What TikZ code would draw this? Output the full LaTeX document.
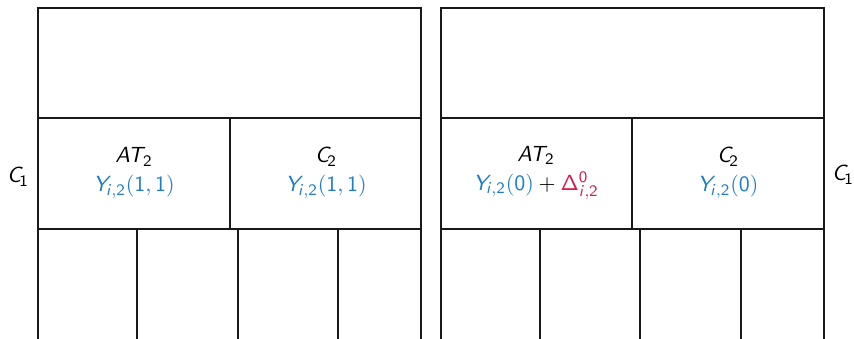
\documentclass[tikz,border=0pt]{standalone}
\DeclareMathAlphabet{\mathsfit}{OT1}{cmss}{m}{sl}
\DeclareMathAlphabet{\mathsfup}{OT1}{cmss}{m}{n}
\definecolor{myblue}{RGB}{30,125,200}
\definecolor{myred}{RGB}{215,30,75}
\newcommand{\Yv}{\mathsfit{Y}_{\mkern-2mu\mathsfit{i},\mathsfup{2}}}
\newcommand{\ATv}{\mathsfit{AT}_{\mkern-3mu\mathsfup{2}}}
\newcommand{\Cv}[1]{\mathsfit{C}_{\mkern-2mu\mathsfup{#1}}}
\tikzset{
  cell/.style={line width=1.05pt, draw=black!90},
  lbl/.style={align=center, font=\fontsize{10.8}{13.5}\selectfont\sffamily, inner sep=0pt}
}
\begin{document}
\begin{tikzpicture}[x=0.5pt, y=-0.5pt]
\useasboundingbox (0,0) rectangle (854,338);
\clip (0,0) rectangle (854,338);
% left panel
\draw[cell] (38,8) rectangle (421,360);
\draw[cell] (38,118) -- (421,118);
\draw[cell] (38,229) -- (421,229);
\draw[cell] (230,118) -- (230,229);
\foreach \x in {137,238,338} \draw[cell] (\x,229) -- (\x,360);
% right panel
\draw[cell] (441,8) rectangle (824,360);
\draw[cell] (441,118) -- (824,118);
\draw[cell] (441,229) -- (824,229);
\draw[cell] (632,118) -- (632,229);
\foreach \x in {540,640,741} \draw[cell] (\x,229) -- (\x,360);
% labels
\node[lbl] (c1l) at (18,177) {$\Cv{1}$};
\node[lbl] (c1r) at (843,175) {$\Cv{1}$};
\node[lbl] (l1) at (134,173) {$\ATv$\\[1pt] $\color{myblue}\Yv\mathsfup{(1,1)}$};
\node[lbl] (l2) at (326,173) {$\Cv{2}$\\[1pt] $\color{myblue}\Yv\mathsfup{(1,1)}$};
\node[lbl] (r1) at (536,173) {$\ATv$\\[1pt] ${\color{myblue}\Yv\mathsfup{(0)}}+{\color{myred}\mathsfup{\Delta}^{\mathsfup{0}}_{\mathsfit{i},\mathsfup{2}}}$};
\node[lbl] (r2) at (728,173) {$\Cv{2}$\\[1pt] $\color{myblue}\Yv\mathsfup{(0)}$};
\end{tikzpicture}
\end{document}
